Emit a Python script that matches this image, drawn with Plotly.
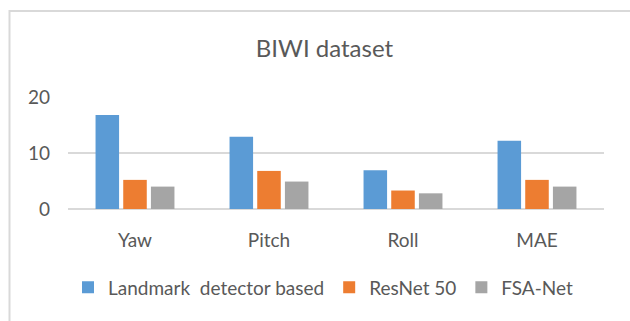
import plotly.graph_objects as go

# Head-pose estimation error on the BIWI dataset
categories = ["Yaw", "Pitch", "Roll", "MAE"]
landmark = [16.8, 12.9, 6.9, 12.2]
resnet50 = [5.2, 6.8, 3.3, 5.2]
fsa_net = [4.0, 4.9, 2.8, 4.0]
y_ticks = [0, 10, 20]

series = [
    ("Landmark\u00a0 detector based", landmark, "#5B9BD5"),
    ("ResNet 50", resnet50, "#ED7D31"),
    ("FSA-Net", fsa_net, "#A5A5A5"),
]

text_color = "#595959"
grid_color = "#D9D9D9"
font_family = "Lato, Carlito, 'Liberation Sans', sans-serif"

fig = go.Figure()
for name, values, color in series:
    fig.add_trace(go.Bar(
        x=categories, y=values, name=name,
        marker=dict(color=color, line=dict(width=0)),
    ))

fig.update_layout(
    width=630, height=321,
    margin=dict(l=68, r=26, t=97, b=112),
    paper_bgcolor="white", plot_bgcolor="white",
    font=dict(family=font_family, color=text_color, size=19),
    barmode="group", bargap=0.38, bargroupgap=0.15,
    title=dict(
        text="BIWI dataset", x=0.515, xanchor="center",
        y=1 - 49 / 321, yanchor="middle",
        font=dict(size=24, color=text_color, family=font_family),
    ),
    showlegend=True,
    legend=dict(
        orientation="h", x=0.0, xanchor="left",
        y=-0.70, yanchor="middle",
        font=dict(size=19, color=text_color),
        bgcolor="rgba(0,0,0,0)", traceorder="normal",
    ),
    shapes=[dict(
        type="rect", xref="paper", yref="paper",
        x0=(9.5 - 68) / 536, x1=2.0,
        y0=-2.0, y1=1 + (97 - 11) / 112,
        line=dict(color=grid_color, width=2),
        fillcolor="rgba(0,0,0,0)", layer="below",
    )],
)

fig.update_xaxes(
    showgrid=False, showline=False, zeroline=False, ticks="",
    ticklabelstandoff=18, tickfont=dict(size=19, color=text_color),
)
fig.update_yaxes(
    range=[0, 20], tickvals=y_ticks, showgrid=True, gridcolor=grid_color,
    gridwidth=2, zeroline=True, zerolinecolor=grid_color, zerolinewidth=2,
    showline=False, ticks="", ticklabelstandoff=17,
    tickfont=dict(size=19, color=text_color),
)

fig.write_html("out.html")
